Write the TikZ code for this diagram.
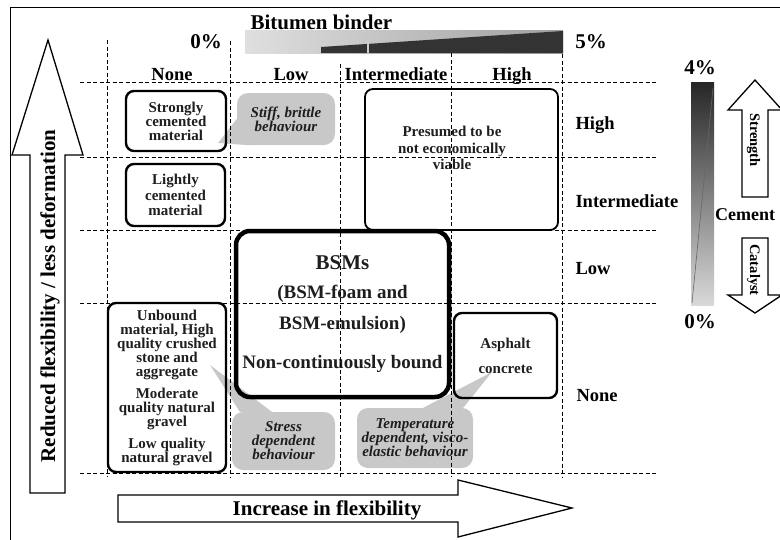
\documentclass[tikz,border=0pt]{standalone}
\usepackage{fontspec}
\setmainfont{Liberation Serif}
\usepackage{tikz}
\usetikzlibrary{backgrounds}
\definecolor{calloutgray}{RGB}{200, 200, 200}
\definecolor{textdark}{RGB}{30, 30, 30}
\newcommand{\hdfont}{\bfseries\fontsize{18.5}{18.5}\selectfont}
\newcommand{\bxfont}{\bfseries\fontsize{15}{14}\selectfont}
\newcommand{\clfont}{\bfseries\itshape\fontsize{15}{14}\selectfont}
\newcommand{\pcfont}{\bfseries\fontsize{21}{21}\selectfont}
\newcommand{\bgfont}{\bfseries\fontsize{19}{19}\selectfont}
\newcommand{\arfont}{\bfseries\fontsize{14.5}{14.5}\selectfont}
\tikzset{
    gridline/.style={line width=0.9pt, dash pattern=on 4pt off 2.5pt},
    matbox/.style={draw, rounded corners=8pt, line width=2.4pt, align=center, inner sep=0pt, font=\bxfont, text=textdark},
    bsmbox/.style={matbox, rounded corners=14pt, line width=4.5pt, font=\bgfont},
    callout/.style={fill=calloutgray, rounded corners=11pt, align=center, inner sep=0pt, font=\clfont, text=textdark},
    tail/.style={fill=calloutgray},
    colhead/.style={font=\hdfont, anchor=base},
    rowhead/.style={font=\hdfont, anchor=base west},
    pct/.style={font=\pcfont, anchor=base},
    blockarrow/.style={draw, fill=white, line width=1.3pt, line join=miter},
}

\begin{document}
\begin{tikzpicture}[x=1pt, y=-1pt]
    \useasboundingbox (0,0) rectangle (780,539);

    % outer frame
    \draw[line width=1pt] (10,7) rectangle (800,560);

    % bitumen binder scale
    \shade[left color=gray!25, right color=gray!75] (245,30) rectangle (563,53);
    \fill[black!80] (321,53) -- (321,47) -- (563,31) -- (563,53) -- cycle;
    \draw[gray!40, line width=1.5pt] (368,41) -- (368,53);
    \node[font=\pcfont, anchor=base west] (bitumen) at (247,29) {Bitumen binder};
    \node[pct] (bitzero) at (206,48) {0\%};
    \node[pct] (bitfive) at (591,48) {5\%};

    % column headers
    \node[colhead] (cnone) at (172,80) {None};
    \node[colhead] (clow) at (291,80) {Low};
    \node[colhead] (cint) at (396,80) {Intermediate};
    \node[colhead] (chigh) at (512,80) {High};

    % row headers
    \node[rowhead] (rhigh) at (572,129) {High};
    \node[rowhead] (rint) at (572,207) {Intermediate};
    \node[rowhead] (rlow) at (572,274) {Low};
    \node[rowhead] (rnone) at (573,401) {None};

    % cement scale
    \shade[top color=black!85, bottom color=gray!30] (691,82) rectangle (714,305);
    \draw[black!60, line width=0.6pt] (692,303) -- (713,88);
    \node[pct] (cemfour) at (700,74) {4\%};
    \node[pct] (cemzero) at (700,328) {0\%};
    \node[font=\bfseries\fontsize{18}{18}\selectfont, anchor=base west, inner sep=0pt] (cement) at (715,220) {Cement};

    % strength / catalyst arrows
    \draw[blockarrow] (742,197) -- (742,110) -- (728,110) -- (755,80) -- (782,110) -- (768,110) -- (768,197) -- cycle;
    \node[font=\arfont, rotate=-90, anchor=base] (strength) at (750,140) {Strength};
    \draw[blockarrow] (742,238) -- (742,295) -- (728,295) -- (755,313) -- (782,295) -- (768,295) -- (768,238) -- cycle;
    \node[font=\arfont, rotate=-90, anchor=base] (catalyst) at (750,270) {Catalyst};

    % flexibility arrows
    \draw[blockarrow] (30,493) -- (30,155) -- (12,155) -- (48,40) -- (83,155) -- (65,155) -- (65,493) -- cycle;
    \node[font=\pcfont, rotate=90, anchor=base] (reduced) at (55,296) {Reduced flexibility / less deformation};
    \draw[blockarrow] (118,495) -- (458,495) -- (458,480) -- (572,508) -- (458,537) -- (458,522) -- (118,522) -- cycle;
    \node[font=\pcfont, anchor=base] (increase) at (327,515) {Increase in flexibility};

    % material boxes
    \node[matbox, minimum width=100pt, minimum height=60pt] (strong) at (176,121) {Strongly\\cemented\\material};
    \node[matbox, minimum width=99pt, minimum height=62pt] (light) at (175.5,195) {Lightly\\[1.5pt]cemented\\[1.5pt]material};
    \node[matbox, line width=1.8pt, minimum width=193pt, minimum height=141pt] (presumed) at (461.5,159.5) {};
    \node[font=\bxfont, text=textdark, align=center, inner sep=0pt] (presumedtxt) at (452,148) {Presumed to be\\[2.5pt]not economically\\[2.5pt]viable};
    \node[bsmbox, minimum width=213pt, minimum height=166pt] (bsm) at (342.5,314) {{\fontsize{21}{21}\selectfont BSMs}\\[10pt](BSM-foam and\\[12pt]BSM-emulsion)\\[20pt]Non-continuously bound};
    \node[matbox, minimum width=103pt, minimum height=85pt] (asphalt) at (505.5,355.5) {Asphalt\\[11pt]concrete};
    \node[matbox, minimum width=118pt, minimum height=169pt] (unbound) at (167,387.5) {Unbound\\material, High\\quality crushed\\stone and\\aggregate\\[8pt]Moderate\\quality natural\\gravel\\[8pt]Low quality\\natural gravel};

    % behaviour callouts
    \node[callout, minimum width=98pt, minimum height=52pt] (stiff) at (286,119) {Stiff, brittle\\behaviour};
    \node[callout, minimum width=103pt, minimum height=58pt] (stress) at (283.5,441) {Stress\\dependent\\behaviour};
    \node[callout, minimum width=116pt, minimum height=60pt] (temp) at (415,438) {Temperature\\dependent, visco-\\elastic behaviour};

    \coordinate (stifftip) at (218,143);
    \coordinate (stresstip) at (210,365);
    \coordinate (temptip) at (492,372);
    \begin{pgfonlayer}{background}
        \fill[tail] (stiff.west) -- (stifftip) -- ([xshift=12pt]stiff.south west) -- cycle;
        \fill[tail] ([xshift=8pt]stress.north west) -- (stresstip) -- ([xshift=40pt]stress.north west) -- cycle;
        \fill[tail] ([xshift=-50pt]temp.north east) -- (temptip) -- ([xshift=-10pt]temp.north east) -- cycle;
    \end{pgfonlayer}

    % dashed grid
    \draw[gridline] (80,82) -- (657,82);
    \draw[gridline] (80,157) -- (657,157);
    \draw[gridline] (80,230) -- (657,230);
    \draw[gridline] (80,303) -- (657,303);
    \draw[gridline] (80,473) -- (657,473);
    \draw[gridline] (107,40) -- (107,477);
    \draw[gridline] (230,41) -- (230,477);
    \draw[gridline] (340,64) -- (340,477);
    \draw[gridline] (451,53) -- (451,477);
    \draw[gridline] (562,54) -- (562,477);
\end{tikzpicture}
\end{document}
